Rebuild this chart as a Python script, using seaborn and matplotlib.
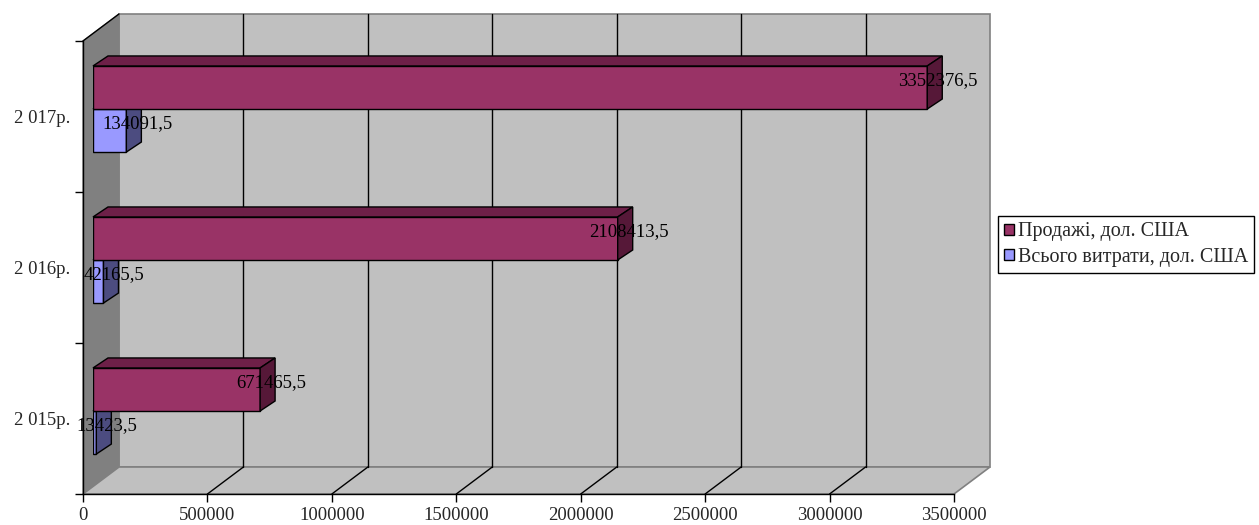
import numpy as np
import pandas as pd
import seaborn as sns
import matplotlib
matplotlib.use("Agg")
import matplotlib.pyplot as plt
from matplotlib.patches import Polygon, Patch
from matplotlib.lines import Line2D
from matplotlib.transforms import IdentityTransform

# ---------------- data ----------------
years = ["2 017р.", "2 016р.", "2 015р."]
series = ["Продажі, дол. США", "Всього витрати, дол. США"]
sales = [3352376.5, 2108413.5, 671465.5]
costs = [134091.5, 42165.5, 13423.5]
x_ticks = [0, 500000, 1000000, 1500000, 2000000, 2500000, 3000000, 3500000]
colors = {series[0]: "#993366", series[1]: "#9999FF"}
top_colors = {series[0]: "#6E2048", series[1]: "#7373BF"}
side_colors = {series[0]: "#561838", series[1]: "#4C4C80"}

df = pd.DataFrame({
    "year": years * 2,
    "series": [series[0]] * len(years) + [series[1]] * len(years),
    "value": sales + costs,
})

sns.set_theme(style="white")
plt.rcParams["font.family"] = ["Liberation Serif", "DejaVu Serif"]

W, H = 1259, 525
fig = plt.figure(figsize=(W / 100, H / 100), dpi=100)
fig.patch.set_facecolor("white")


def rect(left, top, right, bottom):
    return [left / W, 1 - bottom / H, (right - left) / W, (bottom - top) / H]


FL, FT, FR, FB = 83, 41, 954, 494       # front plane in image px
DX, DY = 36, 27                         # depth of the chart box (px)
BOX, BOY = 10, 7.5                      # bar front-face offset into depth
BDX, BDY = 15, 10                       # bar depth
XMAX = 3500000

# front plane axes (ticks / labels)
ax = fig.add_axes(rect(FL, FT, FR, FB))
ax.set_xlim(0, XMAX)
ax.set_ylim(len(years) - 0.5, -0.5)
ax.patch.set_visible(False)
ax.set_zorder(1)

# bars axes, shifted into depth
axb = fig.add_axes(rect(FL + BOX, FT - BOY, FR + BOX, FB - BOY))
axb.set_zorder(2)

I = IdentityTransform()


def disp(a, x, y):
    return a.transData.transform((x, y))


# ---- 3D box: back wall, side wall, floor ----
fl = disp(ax, 0, len(years) - 0.5)      # front-left-bottom
fr = disp(ax, XMAX, len(years) - 0.5)   # front-right-bottom
ft = disp(ax, 0, -0.5)                  # front-left-top
bg_z = 0.1
back = Polygon([(fl[0] + DX, fl[1] + DY), (fr[0] + DX, fr[1] + DY),
                (fr[0] + DX, ft[1] + DY), (ft[0] + DX, ft[1] + DY)],
               closed=True, fc="#C0C0C0", ec="#808080", lw=1.2,
               transform=I, zorder=bg_z)
side = Polygon([(fl[0], fl[1]), (fl[0] + DX, fl[1] + DY),
                (ft[0] + DX, ft[1] + DY), (ft[0], ft[1])],
               closed=True, fc="#808080", ec="#808080", lw=1,
               transform=I, zorder=bg_z + 0.01)
floor = Polygon([(fl[0], fl[1]), (fr[0], fr[1]),
                 (fr[0] + DX, fr[1] + DY), (fl[0] + DX, fl[1] + DY)],
                closed=True, fc="#C0C0C0", ec="#808080", lw=1.2,
                transform=I, zorder=bg_z + 0.02)
for p in (back, side, floor):
    p.set_clip_on(False)
    ax.add_artist(p)
ax.add_line(Line2D([ft[0], ft[0] + DX], [ft[1], ft[1] + DY], color="black",
                   lw=1, transform=I, zorder=bg_z + 0.05, clip_on=False))

for v in x_ticks[1:-1]:
    p0 = disp(ax, v, len(years) - 0.5)
    ax.add_line(Line2D([p0[0], p0[0] + DX], [p0[1], p0[1] + DY], color="black",
                       lw=1, transform=I, zorder=bg_z + 0.05, clip_on=False))
    ax.add_line(Line2D([p0[0] + DX, p0[0] + DX], [p0[1] + DY, ft[1] + DY],
                       color="black", lw=1, transform=I, zorder=bg_z + 0.05,
                       clip_on=False))

# ---- bars ----
sns.barplot(data=df, y="year", x="value", hue="series", order=years,
            hue_order=series, palette=colors, width=0.57, saturation=1,
            edgecolor="black", linewidth=1, orient="h", legend=False, ax=axb)
axb.set_xlim(0, XMAX)
axb.set_ylim(len(years) - 0.5, -0.5)
axb.axis("off")
axb.patch.set_visible(False)

zs = {series[0]: 4, series[1]: 2}
for cont, s in zip(axb.containers, series):
    for bar in cont.patches:
        z = zs[s]
        bar.set_zorder(z)
        x0, y0, w, h = bar.get_x(), bar.get_y(), bar.get_width(), bar.get_height()
        a = disp(axb, x0, y0)
        b = disp(axb, x0 + w, y0 + h)
        L, R = min(a[0], b[0]), max(a[0], b[0])
        Bt, T = min(a[1], b[1]), max(a[1], b[1])
        top = Polygon([(L, T), (R, T), (R + BDX, T + BDY), (L + BDX, T + BDY)],
                      closed=True, fc=top_colors[s], ec="black", lw=1,
                      transform=I, zorder=z, clip_on=False)
        sd = Polygon([(R, Bt), (R, T), (R + BDX, T + BDY), (R + BDX, Bt + BDY)],
                     closed=True, fc=side_colors[s], ec="black", lw=1,
                     transform=I, zorder=z, clip_on=False)
        axb.add_artist(top)
        axb.add_artist(sd)
        lab = f"{w:.1f}".replace(".", ",")
        axb.annotate(lab, xy=(x0 + w, y0 + h / 2), xytext=(11 * 0.72, 7 * 0.72),
                     textcoords="offset points", ha="center", va="center",
                     fontsize=13.5, color="black", zorder=6, annotation_clip=False)

# ---- axes styling ----
ax.set_xticks(x_ticks)
ax.set_xticklabels([str(v) for v in x_ticks])
ax.set_yticks([i - 0.5 for i in range(len(years) + 1)])
ax.set_yticklabels([])
ax.set_yticks(list(range(len(years))), minor=True)
ax.set_yticklabels(years, minor=True)
ax.tick_params(axis="x", which="major", direction="out", length=6, width=1,
               color="black", pad=3, labelsize=13.5, bottom=True)
ax.tick_params(axis="y", which="major", direction="out", length=6, width=1,
               color="black", left=True)
ax.tick_params(axis="y", which="minor", length=0, pad=9, labelsize=13.5, left=True)
for sp in ("top", "right"):
    ax.spines[sp].set_visible(False)
for sp in ("left", "bottom"):
    ax.spines[sp].set_color("black")
    ax.spines[sp].set_linewidth(1)
    ax.spines[sp].set_zorder(3)
ax.grid(False)
ax.set_xlabel("")
ax.set_ylabel("")

# ---- legend ----
handles = [Patch(fc=colors[s], ec="black", lw=1, label=s) for s in series]
leg = fig.legend(handles=handles, loc="center left",
                 bbox_to_anchor=(998 / W, 1 - 244.5 / H), frameon=True,
                 fancybox=False, edgecolor="black", framealpha=1, fontsize=14.5,
                 handlelength=0.5, handleheight=0.5, handletextpad=0.2,
                 borderpad=0.3, labelspacing=0.3, borderaxespad=0)
leg.get_frame().set_linewidth(1)

fig.savefig("out.png", dpi=100)
